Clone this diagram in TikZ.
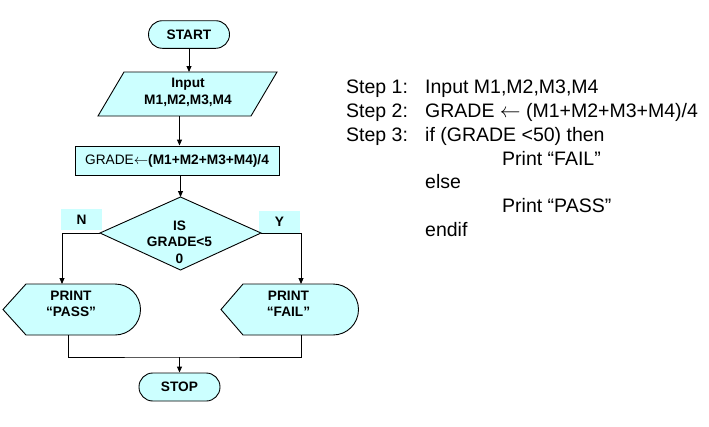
\documentclass[tikz,border=0pt]{standalone}
\usepackage{fontspec}
\setmainfont{Liberation Sans}
\usetikzlibrary{arrows.meta}
\definecolor{cy}{HTML}{CCFFFF}
\begin{document}
\begin{tikzpicture}[x=1pt,y=-1pt,
  shp/.style={draw=black,fill=cy,line width=0.9pt},
  fc/.style={font=\bfseries\fontsize{13.7}{16.5}\selectfont,align=center,inner sep=0pt},
  conn/.style={line width=0.9pt,-{Triangle[length=6pt,width=5pt]}},
  wire/.style={line width=0.9pt},
  tag/.style={fill=cy,minimum width=41pt,inner sep=0pt},
  alg/.style={font=\fontsize{19.5}{24}\selectfont,anchor=base west,inner sep=0pt}]
\useasboundingbox[fill=white] (0,0) rectangle (709,426);
% START
\node[shp,fc,rounded corners=13.8pt,minimum width=81pt,minimum height=27.6pt] (start) at (189,34.5) {START};
% Input parallelogram
\draw[shp] (124,72) coordinate (intop) -- (277,72) -- (251,116) -- (98,116) -- cycle;
\coordinate (inbot) at (179.5,116);
\node[fc] (input) at (188,92.5) {Input\\M1,M2,M3,M4};
% GRADE box
\node[shp,fc,minimum width=204pt,minimum height=29pt] (grade) at (177,160.5)
  {{\mdseries GRADE}$\leftarrow$(M1+M2+M3+M4)/4};
% labels N and Y
\node[tag,fc,minimum height=21pt] (nlab) at (81.5,219.5) {N};
\node[tag,fc,minimum height=22pt] (ylab) at (279.5,222) {Y};
% decision diamond
\draw[shp] (180.5,197) coordinate (dtop) -- (261,233) coordinate (dright)
  -- (180.5,270) -- (100,233) coordinate (dleft) -- cycle;
\node[fc] (dec) at (179.5,242) {IS\\GRADE<5\\0};
% PRINT PASS display shape
\draw[shp] (26,284) -- (115,284) arc[start angle=-90,end angle=90,radius=25.5]
  -- (26,335) -- (3,309.5) -- cycle;
\node[fc] (pass) at (71,304) {PRINT\\“PASS”};
\coordinate (passin) at (62,284);
\coordinate (passout) at (68,335);
% PRINT FAIL display shape
\draw[shp] (243,284) -- (333,284) arc[start angle=-90,end angle=90,radius=25.5]
  -- (243,335) -- (221,309.5) -- cycle;
\node[fc] (fail) at (288.5,304) {PRINT\\“FAIL”};
\coordinate (failin) at (301,284);
\coordinate (failout) at (301,335);
% STOP
\node[shp,fc,rounded corners=13.8pt,minimum width=81pt,minimum height=28pt] (stop) at (179.5,387) {STOP};
\coordinate (merge) at (179.5,357);
% connectors
\draw[conn] (start.south) -- (start.south |- intop);
\draw[conn] (inbot) -- (inbot |- grade.north);
\draw[conn] (grade.south -| dtop) -- (dtop);
\draw[conn] (dleft) -| (passin);
\draw[conn] (dright) -| (failin);
\draw[wire] (passout) |- (merge) -| (failout);
\draw[conn] (merge) -- (stop.north);
% algorithm text
\node[alg] (s1) at (346,93.3) {Step 1:};
\node[alg] (s1t) at (425,93.3) {Input M1,M2,M3,M4};
\node[alg] (s2) at (346,117.2) {Step 2:};
\node[alg] (s2t) at (425,117.2) {GRADE $\leftarrow$ (M1+M2+M3+M4)/4};
\node[alg] (s3) at (346,141.1) {Step 3:};
\node[alg] (s3t) at (425,141.1) {if (GRADE <50) then};
\node[alg] (p1) at (502,165) {Print “FAIL”};
\node[alg] (el) at (425,188.9) {else};
\node[alg] (p2) at (502,212.8) {Print “PASS”};
\node[alg] (ei) at (425,236.7) {endif};
\end{tikzpicture}
\end{document}
